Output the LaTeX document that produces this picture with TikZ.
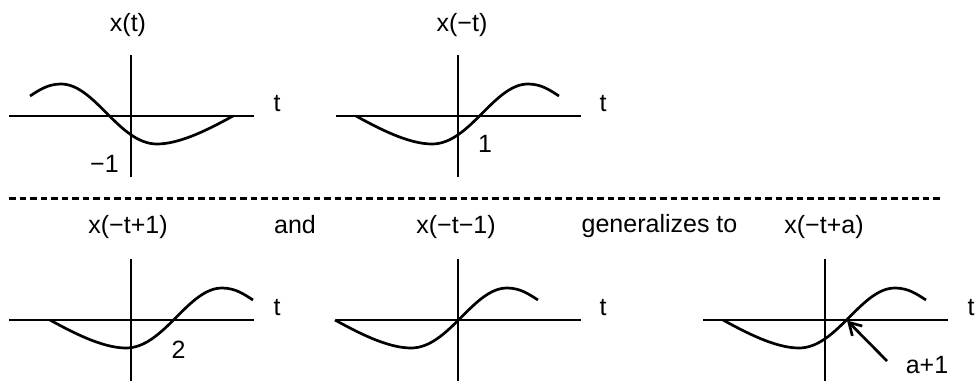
\documentclass[tikz,border=0pt]{standalone}
\usepackage{fontspec}
\setmainfont{Liberation Sans}
\usetikzlibrary{arrows.meta}
\begin{document}
\begin{tikzpicture}[x=1pt,y=-1pt,
  axis/.style={line width=2.7pt},
  wave/.style={line width=2.7pt, line join=round},
  sep/.style={line width=2.2pt, dash pattern=on 6.5pt off 4pt},
  lbl/.style={font=\fontsize{25}{30}\selectfont, inner sep=0pt, anchor=base},
  wavepic/.pic={\draw[wave] (-102,0) .. controls (-80,12) and (-50,28) .. (-26,28)
      .. controls (12,28) and (36,-32) .. (70,-32)
      .. controls (84,-32) and (93,-25) .. (101,-20);},
  axes/.pic={\draw[axis] (-122,0) -- (123,0); \draw[axis] (0,-61) -- (0,61);}
]
\useasboundingbox (0,0) rectangle (977,384);

% top row
\pic at (131,116) {axes};
\pic[xscale=-1] at (131,116) {wavepic};
\pic at (458,116) {axes};
\pic at (458,116) {wavepic};

\node[lbl] (t1) at (128,31.5) {x(t)};
\node[lbl] (t2) at (462,31.5) {x(−t)};
\node[lbl] (tt1) at (277,111) {t};
\node[lbl] (tt2) at (603,111) {t};
\node[lbl] (m1) at (104.5,172) {−1};
\node[lbl] (one) at (485,152) {1};

% separator
\coordinate (sa) at (9,198.5);
\coordinate (sb) at (943,198.5);
\draw[sep] (sa) -- (sb);

% bottom row
\pic at (131,320) {axes};
\pic at (152,320) {wavepic};
\pic at (458,320) {axes};
\pic at (437,320) {wavepic};
\pic at (825,320) {axes};
\pic at (825,320) {wavepic};

\node[lbl] (b1) at (128,233) {x(−t+1)};
\node[lbl] (and) at (295,233) {and};
\node[lbl] (b2) at (456,233) {x(−t−1)};
\node[lbl] (gen) at (659.5,232.5) {generalizes to};
\node[lbl] (b3) at (824,233) {x(−t+a)};
\node[lbl] (tt3) at (277,315) {t};
\node[lbl] (tt4) at (603,315) {t};
\node[lbl] (tt5) at (971,315) {t};
\node[lbl] (two) at (178.5,358) {2};
\node[lbl] (ap1) at (927,373) {a+1};

\coordinate (arrs) at (887,361);
\coordinate (arre) at (847,320.5);
\draw[line width=2.7pt, -{Straight Barb[length=12pt,width=14pt]}] (arrs) -- (arre);
\end{tikzpicture}
\end{document}
